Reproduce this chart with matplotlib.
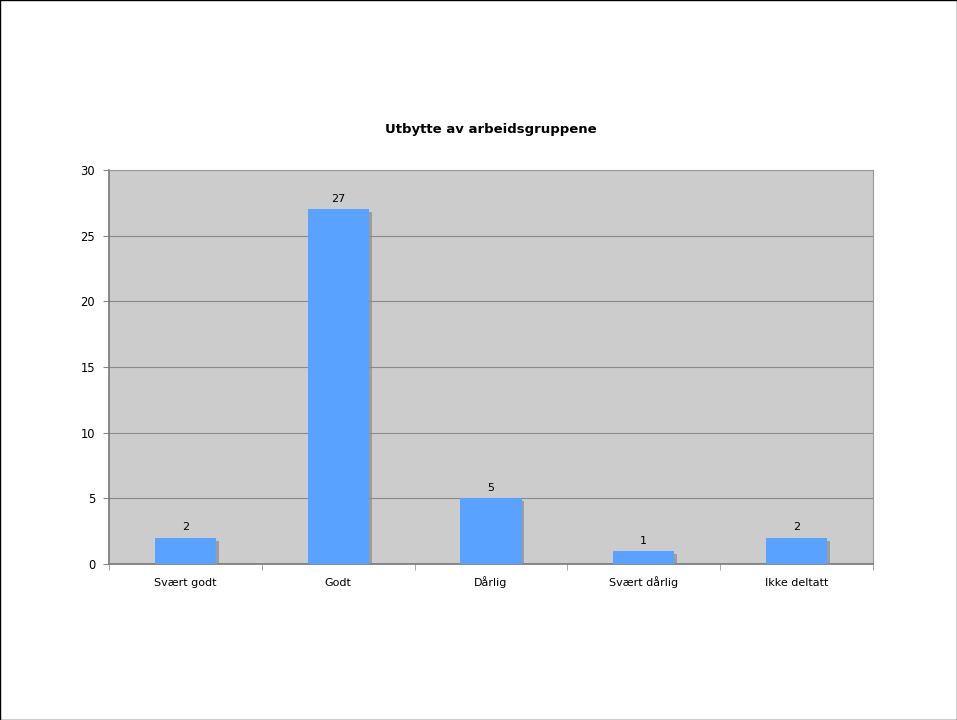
import matplotlib
matplotlib.use("Agg")
import matplotlib.pyplot as plt
import matplotlib.patheffects as pe
from matplotlib.patches import Rectangle
import numpy as np

categories = ["Svært godt", "Godt", "Dårlig", "Svært dårlig", "Ikke deltatt"]
values = [2, 27, 5, 1, 2]
yticks = [0, 5, 10, 15, 20, 25, 30]
title = "Utbytte av arbeidsgruppene"

fig = plt.figure(figsize=(9.57, 7.2), dpi=100)
fig.patch.set_facecolor("white")
ax = fig.add_axes([109/957, 1-564/720, (873-109)/957, (564-170)/720])
ax.set_facecolor("#cccccc")

x = np.arange(len(categories))
bars = ax.bar(x, values, width=0.4, color="#5aa2ff", zorder=3,
              path_effects=[pe.SimplePatchShadow(offset=(2, -2), shadow_rgbFace="#8a8a8a", alpha=0.7), pe.Normal()])
for xi, v in zip(x, values):
    ax.text(xi, v + 0.4, str(v), ha="center", va="bottom", fontsize=8, color="black", zorder=4)

ax.set_xlim(-0.5, len(categories) - 0.5)
ax.set_ylim(0, 30)
ax.set_yticks(yticks)
ax.set_yticklabels([str(t) for t in yticks], fontsize=8.3)
ax.yaxis.grid(True, color="#8a8a8a", linewidth=0.8, zorder=1)
ax.set_axisbelow(True)

ax.set_xticks(x)
ax.set_xticklabels([])
ax.tick_params(axis="x", length=0)
for xi, c in zip(x, categories):
    ax.text(xi, 0, c, transform=ax.get_xaxis_transform(), ha="center", va="baseline",
            fontsize=8)
# place labels in pixels below axis using offset transform
import matplotlib.transforms as mtransforms
off = mtransforms.ScaledTranslation(0, -22/100, fig.dpi_scale_trans)
for t in ax.texts[len(values):]:
    t.set_transform(ax.get_xaxis_transform() + off)
ax.set_xticks(np.arange(len(categories) + 1) - 0.5, minor=True)
ax.tick_params(axis="x", which="minor", length=4, color="#999999")
ax.tick_params(axis="y", length=4, color="#888888", pad=6)

for s in ["left", "bottom"]:
    ax.spines[s].set_color("#777777")
    ax.spines[s].set_linewidth(1.2)
for s in ["right", "top"]:
    ax.spines[s].set_color("#999999")
    ax.spines[s].set_linewidth(0.8)

fig.text(491/957, 1-130/720, title, ha="center", va="center", fontsize=9.5, fontweight="bold")

fig.patches.append(Rectangle((0.0005, 0.0005), 0.999, 0.999, transform=fig.transFigure,
                             fill=False, edgecolor="black", linewidth=1))

fig.savefig("out.png", dpi=100)
